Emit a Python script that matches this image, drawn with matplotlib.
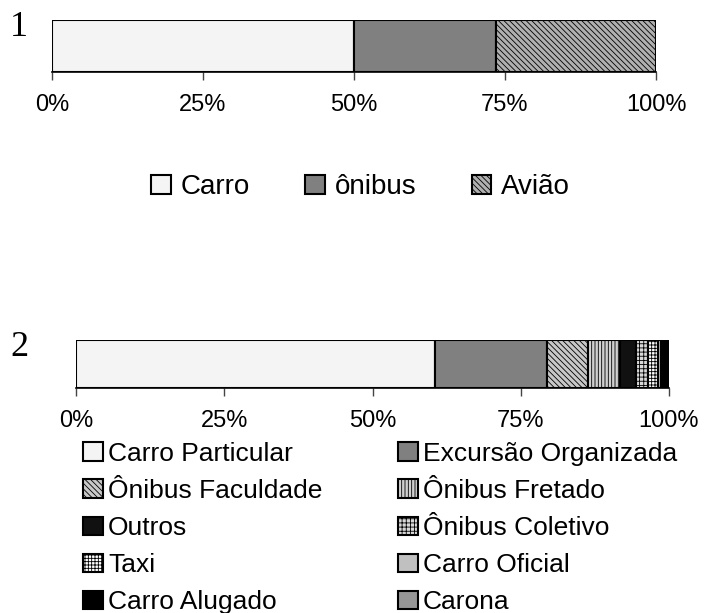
import matplotlib.pyplot as plt
from matplotlib.patches import Patch

plt.rcParams.update({'font.family': ['Liberation Sans', 'DejaVu Sans'],
                     'hatch.linewidth': 0.6})

# chart 1 data (percent)
cats1 = ['Carro', 'ônibus', 'Avião']
vals1 = [50.0, 23.5, 26.5]
# chart 2 data (percent)
cats2 = ['Carro Particular', 'Excursão Organizada', 'Ônibus Faculdade', 'Ônibus Fretado',
         'Outros', 'Ônibus Coletivo', 'Taxi', 'Carro Oficial', 'Carro Alugado', 'Carona']
vals2 = [60.5, 19.0, 6.8, 5.5, 2.6, 2.1, 1.7, 0.4, 1.1, 0.3]
xticks = [0, 25, 50, 75, 100]
xticklabels = ['0%', '25%', '50%', '75%', '100%']

# fill styles (face, hatch)
style1 = {'Carro': ('#f4f4f4', None), 'ônibus': ('#808080', None), 'Avião': ('#b0b0b0', '\\\\\\\\\\\\')}
style2 = {'Carro Particular': ('#f4f4f4', None),
          'Excursão Organizada': ('#808080', None),
          'Ônibus Faculdade': ('#c8c8c8', '\\\\\\\\\\\\'),
          'Ônibus Fretado': ('#d0d0d0', '|||||'),
          'Outros': ('#111111', None),
          'Ônibus Coletivo': ('#d8d8d8', '++++'),
          'Taxi': ('#ffffff', '+++++'),
          'Carro Oficial': ('#c0c0c0', None),
          'Carro Alugado': ('#000000', None),
          'Carona': ('#969696', None)}


def stacked_bar(ax, cats, vals, style):
    left = 0
    for c, v in zip(cats, vals):
        face, hatch = style[c]
        ax.barh(0, v, left=left, height=1, color=face, hatch=hatch,
                edgecolor='black', linewidth=1.5, align='edge')
        left += v
    ax.set_xlim(0, 100)
    ax.set_ylim(0, 1)
    ax.set_yticks([])
    for s in ['top', 'right', 'left']:
        ax.spines[s].set_visible(False)
    ax.spines['bottom'].set_linewidth(1.2)
    ax.set_xticks(xticks)
    ax.set_xticklabels(xticklabels, fontsize=17)
    ax.tick_params(axis='x', length=6, width=1, color='#444444', pad=10)


fig = plt.figure(figsize=(7.04, 6.13), dpi=100)
ax1 = fig.add_axes([52/704, 1-72/613, 604/704, 52/613])
ax2 = fig.add_axes([76/704, 1-388/613, 593/704, 48/613])
stacked_bar(ax1, cats1, vals1, style1)
stacked_bar(ax2, cats2, vals2, style2)

fig.text(10/704, 1-28/613, '1', fontsize=26, family='Liberation Serif', va='center')
fig.text(10/704, 1-348/613, '2', fontsize=26, family='Liberation Serif', va='center')

h1 = [Patch(facecolor=style1[c][0], hatch=style1[c][1], edgecolor='black', linewidth=1.5) for c in cats1]
fig.legend(h1, cats1, loc='center', bbox_to_anchor=(0.512, 1-187/613), ncol=3, frameon=False,
           fontsize=20, handlelength=0.7, handleheight=0.7, handletextpad=0.35, columnspacing=2.0)

# legend laid out row-wise in two columns: reorder for matplotlib's column-wise fill
order = list(range(0, len(cats2), 2)) + list(range(1, len(cats2), 2))
h2 = [Patch(facecolor=style2[cats2[i]][0], hatch=style2[cats2[i]][1], edgecolor='black', linewidth=1.5) for i in order]
fig.legend(h2, [cats2[i] for i in order], loc='center', bbox_to_anchor=(0.54, 1-528/613), ncol=2,
           frameon=False, fontsize=19, handlelength=0.75, handleheight=0.7, handletextpad=0.2,
           columnspacing=2.85, labelspacing=0.5, borderpad=0)

fig.savefig('out.png', dpi=100)
